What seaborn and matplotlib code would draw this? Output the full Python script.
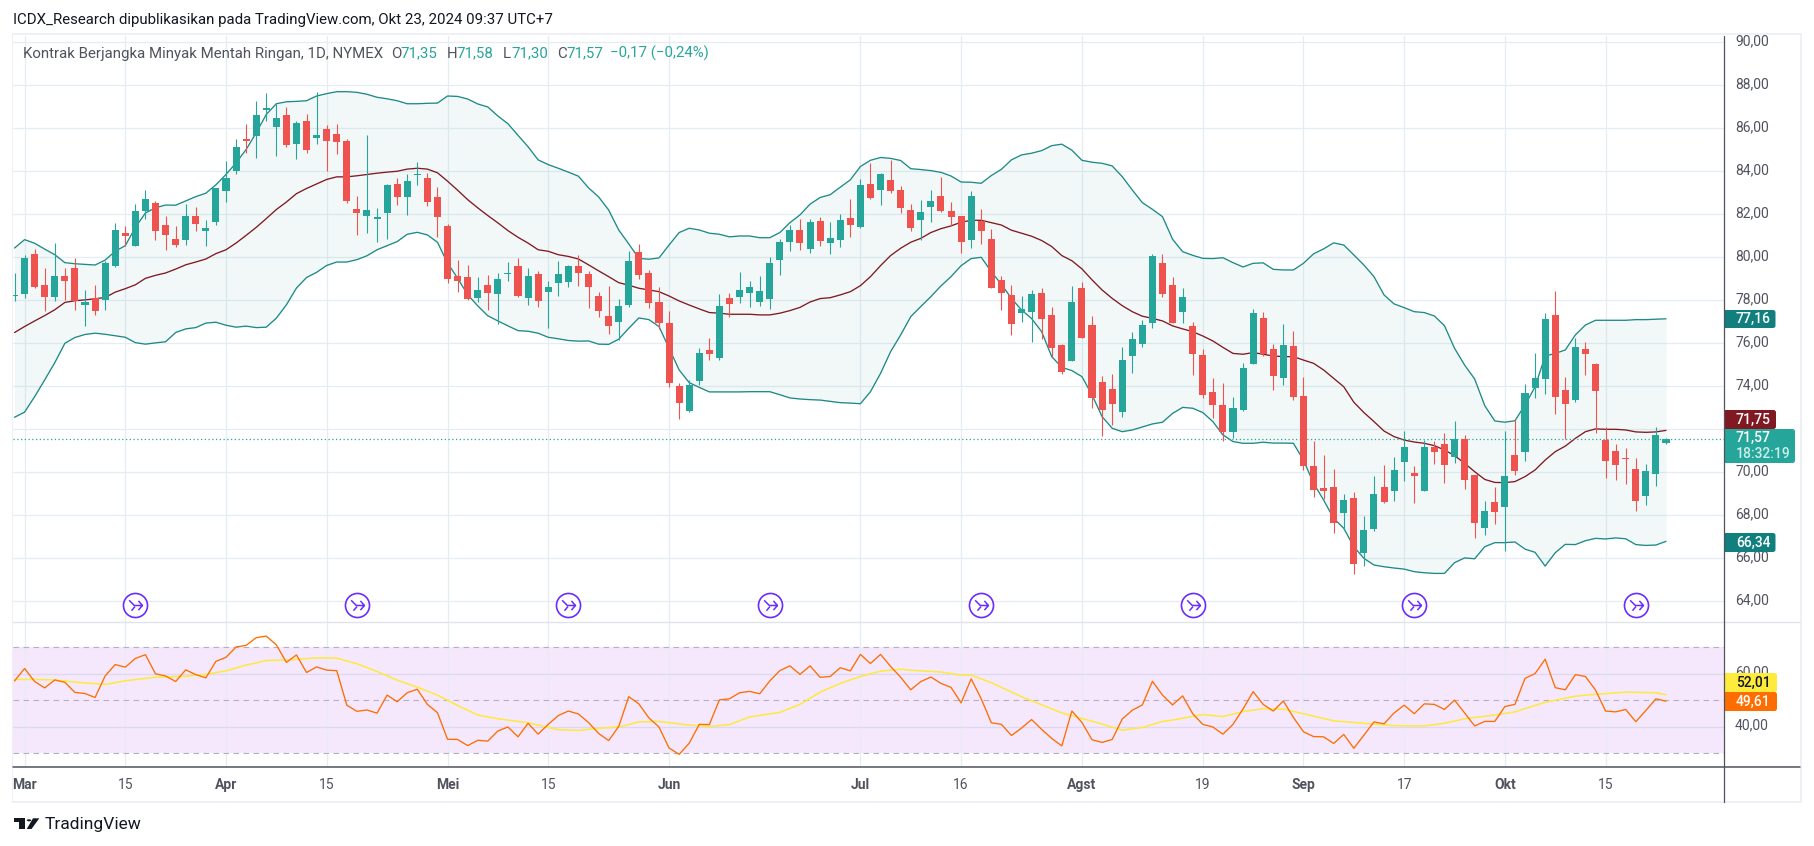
import matplotlib
matplotlib.use('Agg')
import matplotlib.pyplot as plt
import numpy as np
import pandas as pd
import seaborn as sns
from matplotlib.lines import Line2D
from matplotlib.patches import Circle, FancyBboxPatch, Polygon, Rectangle
from matplotlib.path import Path
from matplotlib.transforms import IdentityTransform, ScaledTranslation

# OHLC harian
opens = [78.18, 78.27, 80.17, 78.72, 78.13, 79.14, 79.50, 77.76, 78.10, 78.02,
         79.61, 81.13, 80.54, 82.17, 82.54, 81.52, 80.87, 80.82, 81.94, 81.24,
         81.66, 83.10, 83.99, 85.48, 85.62, 86.85, 86.04, 86.60, 85.29, 86.32,
         85.57, 85.95, 85.71, 85.39, 82.26, 81.94, 81.80, 82.08, 83.43, 82.78,
         83.82, 83.71, 82.78, 81.47, 79.14, 79.09, 78.12, 78.72, 78.30, 79.23,
         79.61, 78.12, 79.23, 78.40, 78.82, 78.86, 79.61, 79.23, 78.21, 77.27,
         76.99, 77.78, 80.25, 79.27, 77.92, 76.95, 74.02, 72.85, 74.25, 75.69,
         75.32, 78.11, 78.16, 78.34, 77.92, 78.06, 79.88, 80.71, 81.27, 80.39,
         81.69, 80.67, 80.81, 81.83, 81.41, 83.41, 83.13, 83.60, 83.13, 82.20,
         81.74, 82.34, 82.85, 82.16, 81.92, 80.81, 81.69, 80.85, 78.95, 78.25,
         77.41, 77.46, 78.34, 77.32, 75.92, 75.18, 78.57, 76.85, 74.20, 73.88,
         72.81, 75.41, 75.97, 76.95, 79.74, 78.71, 77.46, 76.81, 75.46, 73.74,
         73.13, 71.88, 72.90, 75.04, 77.18, 75.74, 74.39, 75.88, 73.55, 70.29,
         69.27, 69.32, 68.11, 68.81, 66.25, 67.36, 69.32, 69.13, 70.48, 69.97,
         69.13, 71.18, 71.32, 70.71, 71.55, 69.88, 67.41, 68.62, 68.39, 70.81,
         70.95, 73.92, 74.34, 77.32, 73.83, 73.36, 75.74, 75.04, 71.50, 70.99,
         70.67, 70.16, 68.90, 69.92, 71.35]
highs = [79.27, 80.10, 80.38, 79.50, 80.66, 79.50, 79.97, 78.49, 78.72, 79.81,
         81.60, 81.47, 82.50, 83.15, 82.64, 81.94, 81.47, 82.50, 82.36, 81.75,
         83.20, 84.50, 85.51, 86.20, 87.25, 87.62, 87.11, 86.97, 86.32, 86.64,
         87.67, 86.13, 86.18, 85.51, 82.87, 85.67, 82.31, 83.43, 83.71, 83.85,
         84.45, 83.90, 83.29, 81.57, 79.89, 79.65, 79.09, 79.19, 79.27, 79.79,
         79.98, 79.51, 79.37, 78.91, 79.84, 79.65, 80.12, 79.37, 78.40, 78.67,
         78.06, 80.29, 80.62, 79.41, 78.62, 77.50, 74.14, 74.29, 75.78, 76.25,
         78.29, 78.34, 79.32, 78.90, 79.13, 80.02, 80.85, 81.50, 81.78, 81.78,
         81.88, 81.64, 82.02, 82.71, 83.64, 84.39, 83.92, 84.53, 83.32, 82.48,
         82.67, 83.13, 83.74, 82.57, 81.92, 83.09, 82.25, 81.32, 79.13, 78.71,
         78.20, 78.48, 78.57, 77.69, 75.97, 78.67, 78.85, 77.27, 74.48, 74.57,
         75.83, 76.53, 77.09, 80.16, 80.16, 79.09, 78.57, 76.99, 75.74, 74.39,
         74.16, 73.50, 75.09, 77.60, 77.46, 75.97, 76.90, 76.57, 74.43, 71.46,
         70.81, 70.16, 68.99, 69.09, 67.97, 69.83, 70.34, 70.71, 71.92, 70.29,
         71.50, 71.46, 71.83, 72.39, 71.74, 69.88, 68.67, 69.32, 71.92, 72.48,
         74.11, 75.55, 77.41, 78.43, 74.43, 76.25, 76.06, 75.09, 72.11, 71.32,
         71.13, 70.67, 70.39, 72.11, 71.58]
lows = [77.95, 78.10, 78.57, 77.51, 77.98, 78.02, 77.56, 76.81, 77.32, 77.56,
        79.55, 80.51, 80.54, 81.80, 80.82, 80.32, 80.46, 80.59, 81.24, 80.54,
        81.52, 82.59, 83.85, 84.86, 84.64, 86.32, 84.69, 85.11, 84.55, 84.83,
        85.25, 84.03, 84.78, 82.54, 81.05, 81.15, 80.73, 80.87, 82.45, 81.98,
        83.34, 82.40, 80.96, 78.80, 78.40, 78.02, 77.93, 77.56, 76.90, 78.91,
        78.15, 77.79, 77.70, 76.72, 78.21, 78.63, 78.68, 77.65, 77.23, 76.43,
        76.16, 77.69, 78.99, 77.64, 76.67, 73.97, 72.48, 72.81, 74.06, 75.22,
        75.22, 77.22, 77.88, 77.69, 77.74, 77.60, 79.18, 80.29, 80.34, 80.20,
        80.53, 80.16, 80.48, 80.95, 81.36, 82.71, 82.43, 82.99, 82.06, 81.22,
        80.81, 81.64, 82.11, 81.46, 80.20, 80.43, 80.62, 78.57, 77.55, 76.39,
        76.99, 76.06, 76.20, 75.36, 74.57, 75.18, 76.25, 73.00, 71.69, 72.20,
        72.57, 74.62, 75.83, 76.71, 78.16, 76.95, 76.95, 74.53, 73.44, 72.53,
        71.46, 71.60, 72.85, 75.04, 75.41, 73.83, 74.06, 73.36, 70.11, 68.85,
        68.76, 67.18, 67.32, 65.27, 65.64, 67.27, 68.57, 68.67, 69.60, 68.57,
        69.13, 70.39, 69.50, 70.43, 69.22, 66.95, 67.09, 67.60, 66.34, 69.88,
        70.53, 73.46, 73.64, 72.71, 71.55, 73.27, 74.53, 71.83, 69.74, 69.64,
        69.46, 68.20, 68.48, 69.36, 71.30]
closes = [78.26, 79.97, 78.64, 78.13, 79.14, 78.92, 77.95, 77.91, 77.51, 79.73,
          81.29, 81.00, 82.17, 82.73, 81.24, 81.05, 80.59, 81.94, 81.57, 81.38,
          83.20, 83.71, 85.15, 85.43, 86.60, 86.92, 86.46, 85.20, 86.23, 84.97,
          85.67, 85.39, 85.34, 82.64, 82.08, 82.22, 81.89, 83.38, 82.78, 83.57,
          83.85, 82.59, 81.89, 78.97, 78.91, 78.07, 78.49, 78.35, 79.00, 79.27,
          78.21, 79.14, 77.98, 78.63, 79.23, 79.61, 79.28, 78.63, 77.51, 76.81,
          77.74, 79.83, 79.18, 77.88, 76.95, 74.16, 73.22, 74.06, 75.55, 75.50,
          77.74, 77.83, 78.48, 78.62, 78.43, 79.74, 80.71, 81.27, 80.67, 81.64,
          80.76, 80.90, 81.74, 81.50, 83.36, 82.76, 83.88, 83.09, 82.29, 81.36,
          82.11, 82.62, 82.16, 81.88, 80.71, 82.85, 81.22, 78.57, 78.34, 76.90,
          77.60, 78.29, 77.13, 75.78, 74.67, 77.92, 76.25, 73.46, 72.90, 73.18,
          75.22, 76.20, 76.85, 80.06, 78.29, 76.95, 78.16, 75.50, 73.60, 73.13,
          71.88, 72.99, 74.85, 77.41, 75.50, 74.48, 75.92, 73.50, 70.29, 69.18,
          69.13, 67.64, 68.71, 65.74, 67.32, 68.99, 68.62, 70.11, 71.18, 69.83,
          71.18, 70.95, 70.34, 71.55, 69.64, 67.64, 68.20, 68.16, 69.83, 70.06,
          73.69, 74.39, 77.13, 73.50, 73.18, 75.83, 75.50, 73.78, 70.53, 70.34,
          70.62, 68.67, 70.06, 71.74, 71.57]

# Bollinger Bands
bb_upper = [80.43, 80.82, 80.65, 80.38, 80.12, 79.75, 79.70, 79.67, 79.64, 79.87,
            80.28, 80.54, 81.39, 82.06, 82.30, 82.43, 82.42, 82.62, 82.82, 82.98,
            83.37, 83.85, 84.39, 85.01, 85.79, 86.64, 87.14, 87.23, 87.25, 87.28,
            87.50, 87.61, 87.70, 87.70, 87.67, 87.58, 87.44, 87.37, 87.28, 87.14,
            87.14, 87.16, 87.17, 87.50, 87.48, 87.36, 87.13, 86.99, 86.57, 86.21,
            85.67, 85.14, 84.53, 84.31, 84.14, 83.96, 83.77, 83.23, 82.81, 82.20,
            81.27, 80.62, 79.95, 79.91, 79.97, 80.57, 81.15, 81.35, 81.27, 81.12,
            81.07, 80.95, 80.99, 80.99, 80.91, 80.91, 81.15, 81.61, 81.97, 82.47,
            82.78, 82.91, 83.26, 83.60, 84.22, 84.51, 84.64, 84.60, 84.50, 84.12,
            84.08, 84.03, 83.95, 83.78, 83.50, 83.49, 83.44, 83.80, 84.09, 84.53,
            84.76, 84.84, 84.96, 85.19, 85.26, 84.98, 84.51, 84.42, 84.37, 84.25,
            83.75, 83.13, 82.54, 82.23, 81.89, 80.84, 80.26, 80.09, 79.95, 79.94,
            79.98, 79.75, 79.55, 79.72, 79.74, 79.44, 79.41, 79.41, 79.72, 80.16,
            80.39, 80.67, 80.57, 80.11, 79.64, 79.10, 78.25, 77.83, 77.66, 77.47,
            77.43, 77.27, 76.82, 75.77, 74.99, 74.34, 73.10, 72.39, 72.33, 72.40,
            73.13, 73.98, 75.41, 75.53, 75.69, 76.39, 76.85, 77.07, 77.07, 77.07,
            77.07, 77.10, 77.10, 77.12, 77.14]
bb_basis = [76.50, 76.78, 77.04, 77.29, 77.56, 77.90, 77.98, 78.02, 78.07, 78.13,
            78.38, 78.54, 78.72, 79.02, 79.16, 79.27, 79.45, 79.65, 79.78, 79.92,
            80.17, 80.35, 80.66, 81.02, 81.39, 81.80, 82.22, 82.57, 82.96, 83.20,
            83.41, 83.62, 83.74, 83.74, 83.79, 83.85, 83.91, 83.96, 84.00, 84.10,
            84.14, 84.10, 83.93, 83.54, 83.12, 82.68, 82.30, 81.94, 81.60, 81.24,
            80.93, 80.66, 80.35, 80.28, 80.12, 80.04, 79.92, 79.65, 79.37, 79.10,
            78.82, 78.70, 78.56, 78.48, 78.40, 78.20, 77.97, 77.78, 77.60, 77.43,
            77.40, 77.35, 77.35, 77.35, 77.32, 77.32, 77.40, 77.52, 77.67, 77.92,
            78.08, 78.12, 78.25, 78.40, 78.68, 79.10, 79.61, 80.08, 80.42, 80.70,
            80.88, 81.15, 81.33, 81.46, 81.63, 81.72, 81.72, 81.61, 81.50, 81.26,
            81.12, 80.98, 80.78, 80.50, 80.08, 79.84, 79.46, 78.95, 78.48, 78.09,
            77.75, 77.47, 77.26, 77.16, 77.04, 76.81, 76.67, 76.54, 76.34, 76.11,
            75.81, 75.53, 75.49, 75.57, 75.49, 75.41, 75.38, 75.38, 75.22, 75.07,
            74.76, 74.37, 73.98, 73.26, 72.78, 72.36, 71.92, 71.66, 71.50, 71.41,
            71.35, 71.24, 71.04, 70.78, 70.42, 70.03, 69.67, 69.53, 69.52, 69.57,
            69.80, 70.11, 70.57, 70.96, 71.22, 71.58, 71.89, 72.02, 72.00, 72.00,
            71.97, 71.88, 71.86, 71.88, 71.95]
bb_lower = [72.56, 72.80, 73.52, 74.30, 75.10, 76.00, 76.27, 76.41, 76.47, 76.42,
            76.35, 76.28, 76.03, 75.96, 76.02, 76.07, 76.50, 76.67, 76.73, 76.94,
            76.98, 76.84, 76.75, 76.80, 76.73, 76.75, 77.17, 77.79, 78.57, 79.06,
            79.30, 79.62, 79.78, 79.78, 79.89, 80.07, 80.35, 80.54, 80.73, 81.07,
            81.16, 81.04, 80.70, 79.73, 79.03, 78.26, 77.74, 77.28, 77.04, 76.81,
            76.59, 76.56, 76.47, 76.28, 76.21, 76.13, 76.10, 76.11, 75.96, 75.95,
            76.19, 76.70, 77.18, 77.10, 76.78, 75.77, 74.76, 74.17, 73.95, 73.74,
            73.74, 73.74, 73.74, 73.75, 73.75, 73.75, 73.61, 73.46, 73.41, 73.38,
            73.36, 73.30, 73.24, 73.22, 73.19, 73.75, 74.60, 75.61, 76.39, 77.24,
            77.71, 78.17, 78.67, 79.10, 79.61, 79.94, 80.00, 79.33, 78.74, 78.09,
            77.55, 77.15, 76.54, 75.38, 74.88, 74.73, 74.45, 73.60, 72.59, 72.05,
            71.89, 71.97, 72.11, 72.25, 72.33, 72.74, 73.02, 72.98, 72.78, 72.36,
            71.74, 71.43, 71.35, 71.35, 71.40, 71.36, 71.36, 71.35, 70.57, 69.49,
            68.71, 67.86, 67.40, 66.54, 66.00, 65.69, 65.61, 65.55, 65.50, 65.38,
            65.33, 65.30, 65.30, 65.80, 66.02, 65.98, 66.54, 66.73, 66.73, 66.76,
            66.43, 66.28, 65.64, 66.26, 66.65, 66.64, 66.82, 66.93, 66.90, 66.95,
            66.91, 66.64, 66.60, 66.62, 66.79]

# RSI
rsi_values = [57.2, 61.9, 57.0, 54.6, 57.6, 56.7, 52.9, 52.5, 51.0, 59.1,
              63.4, 62.4, 65.7, 67.1, 59.9, 59.1, 57.0, 61.4, 59.6, 58.4,
              64.6, 66.1, 70.0, 70.6, 73.5, 74.1, 70.8, 64.2, 67.0, 60.4,
              62.5, 61.3, 61.1, 48.1, 45.8, 46.3, 45.1, 51.9, 49.4, 52.8,
              54.1, 48.4, 45.3, 35.3, 35.2, 32.9, 34.9, 34.6, 38.4, 39.9,
              36.2, 41.3, 37.2, 40.9, 44.2, 45.9, 44.8, 41.6, 37.5, 34.8,
              40.1, 51.3, 48.6, 43.3, 39.9, 32.0, 29.6, 33.8, 40.9, 40.8,
              50.1, 50.5, 52.8, 53.3, 52.4, 57.2, 61.1, 62.9, 59.7, 62.9,
              58.6, 58.9, 62.2, 61.0, 67.2, 63.8, 67.2, 62.7, 58.6, 53.9,
              57.0, 58.7, 56.3, 54.8, 49.0, 58.0, 50.5, 41.5, 40.9, 36.7,
              39.5, 42.7, 39.0, 35.6, 32.8, 45.9, 41.6, 35.1, 34.1, 35.2,
              42.9, 46.2, 48.2, 57.1, 51.9, 48.2, 51.6, 44.9, 40.9, 39.9,
              37.2, 40.9, 46.7, 53.2, 48.4, 45.9, 49.7, 43.5, 38.1, 36.3,
              36.2, 33.7, 37.1, 31.9, 36.8, 41.8, 41.1, 45.2, 48.1, 44.9,
              48.6, 48.4, 46.5, 50.0, 45.2, 40.3, 42.0, 42.0, 47.6, 48.4,
              58.2, 60.0, 65.4, 54.7, 53.9, 59.6, 58.9, 53.8, 45.9, 45.6,
              46.5, 41.9, 46.1, 50.5, 49.61]
# garis kuning RSI, titik yang terbaca saja
rsi_ma_idx = [0, 2, 4, 6, 9, 11, 14, 17, 19, 21, 23, 25, 27, 30, 32, 34, 36, 38, 40, 42,
              44, 46, 48, 51, 54, 56, 58, 60, 62, 64, 67, 69, 71, 73, 76, 78, 80, 82, 84, 86,
              88, 90, 92, 94, 95, 97, 100, 104, 108, 110, 112, 114, 115, 118, 120, 122, 124, 126, 128, 131,
              134, 137, 140, 142, 144, 147, 149, 152, 155, 157, 160, 163, 164]
rsi_ma = [57.8, 57.8, 57.6, 56.8, 55.9, 57.3, 58.6, 59.0, 59.7, 61.0, 63.2, 64.9, 65.1, 65.9, 65.8, 63.7, 60.8, 57.5, 54.9, 51.9,
          48.0, 44.4, 43.0, 41.5, 38.9, 38.6, 39.4, 39.9, 41.8, 42.0, 40.6, 40.1, 40.8, 43.7, 45.4, 48.4, 53.0, 56.3, 58.9, 60.9,
          61.6, 61.0, 60.6, 59.4, 59.4, 56.6, 51.3, 45.2, 41.0, 38.7, 39.7, 42.0, 42.5, 44.6, 43.8, 45.7, 46.8, 46.6, 44.9, 42.2,
          41.3, 40.4, 40.3, 41.3, 43.0, 44.4, 45.6, 49.2, 51.5, 52.2, 53.0, 52.8, 52.01]

# sumbu waktu
time_tick_idx = [1, 11, 21, 31, 43, 53, 65, 84, 94, 106, 118, 128, 138, 148, 158]
time_tick_labels = ['Mar', '15', 'Apr', '15', 'Mei', '15', 'Jun', 'Jul', '16', 'Agst', '19', 'Sep', '17', 'Okt', '15']
month_labels = ['Mar', 'Apr', 'Mei', 'Jun', 'Jul', 'Agst', 'Sep', 'Okt']
price_ticks = [64, 66, 68, 70, 72, 74, 76, 78, 80, 82, 84, 86, 88, 90]
rsi_ticks = [40, 60]
rsi_levels = [30, 50, 70]
event_idx = [12, 34, 55, 75, 96, 117, 139, 161]
event_level = 63.83
last_close = 71.57

UP = '#26a69a'
DOWN = '#ef5350'
BAND = '#1d8a87'
BASIS = '#801922'
GRID = '#e6edf2'
TEXT = '#50535e'
W, H = 1814, 846

sns.set_style('white')
plt.rcParams['font.family'] = ['Roboto', 'DejaVu Sans']

fig = plt.figure(figsize=(W / 100, H / 100), dpi=100, facecolor='white')


def px_axes(x0, y0, x1, y1):
    return fig.add_axes([x0 / W, 1 - y1 / H, (x1 - x0) / W, (y1 - y0) / H])


def fx(x):
    return x / W


def fy(y):
    return 1 - y / H


def px_text(x, y, s, **kw):
    kw.setdefault('va', 'center')
    kw.setdefault('ha', 'left')
    kw.setdefault('fontsize', 10)
    kw.setdefault('color', TEXT)
    fig.text(fx(x), fy(y), s, **kw)


def px_rect(x0, y0, x1, y1, color, **kw):
    fig.add_artist(Rectangle((fx(x0), fy(y1)), (x1 - x0) / W, (y1 - y0) / H,
                             transform=fig.transFigure, facecolor=color, edgecolor='none', **kw))


def px_line(xs, ys, color, lw):
    fig.add_artist(Line2D([fx(x) for x in xs], [fy(y) for y in ys], color=color, lw=lw,
                          transform=fig.transFigure))


def px_tag(y0, y1, x1, color):
    # sudut kanan membulat seperti label TradingView
    fig.add_artist(FancyBboxPatch((1724.5, H - y1), x1 - 1724.5, y1 - y0,
                                  boxstyle='round,pad=0,rounding_size=2.5', transform=IdentityTransform(),
                                  facecolor=color, edgecolor='none'))
    px_rect(1724.5, y0, 1730, y1, color)


ax = px_axes(12.6, 36, 1724, 622)
ax_rsi = px_axes(12.6, 622, 1724, 767)

df = pd.DataFrame({'idx': np.arange(len(closes)), 'open': opens, 'high': highs, 'low': lows, 'close': closes,
                   'upper': bb_upper, 'basis': bb_basis, 'lower': bb_lower, 'rsi': rsi_values})

xlim = (-0.19, 169.76)
for a in (ax, ax_rsi):
    a.set_xlim(xlim)
    a.set_xticks(time_tick_idx)
    a.grid(True, color=GRID, lw=0.9)
    a.set_axisbelow(True)
    a.yaxis.tick_right()
    a.tick_params(length=0, labelcolor=TEXT, labelsize=10, pad=8)
    a.patch.set_alpha(0)
    for s in a.spines.values():
        s.set_visible(False)

# panel harga
ax.set_ylim(63.04, 90.29)
ax.set_yticks(price_ticks)
ax.set_yticklabels([f'{t:.2f}'.replace('.', ',') for t in price_ticks])
ax.tick_params(labelbottom=False)

ax.fill_between(df['idx'], df['lower'], df['upper'], color='#138484', alpha=0.055, lw=0, zorder=1)
sns.lineplot(data=df, x='idx', y='upper', ax=ax, color=BAND, lw=0.95, estimator=None, zorder=2)
sns.lineplot(data=df, x='idx', y='lower', ax=ax, color=BAND, lw=0.95, estimator=None, zorder=2)
sns.lineplot(data=df, x='idx', y='basis', ax=ax, color=BASIS, lw=0.95, estimator=None, zorder=2)
ax.axhline(last_close, color=UP, lw=0.9, ls=(0, (1, 2)), zorder=2)

colors = np.where(df['close'] >= df['open'], UP, DOWN)
ax.vlines(df['idx'], df['low'], df['high'], colors=colors, lw=0.8, zorder=3)
ax.bar(df['idx'], (df['close'] - df['open']).abs(), bottom=df[['open', 'close']].min(axis=1),
       width=0.7, color=colors, lw=0, zorder=4)

arrow_path = Path([(-0.55, 0.45), (-0.1, 0), (0.6, 0), (0.25, 0.4), (0.6, 0), (0.25, -0.4), (-0.35, -0.45), (-0.05, -0.1)],
                  [Path.MOVETO, Path.LINETO, Path.LINETO, Path.MOVETO, Path.LINETO, Path.LINETO, Path.MOVETO, Path.LINETO])
event_df = pd.DataFrame({'idx': event_idx, 'level': [event_level] * len(event_idx)})
sns.scatterplot(data=event_df, x='idx', y='level', ax=ax, s=300, color='white', edgecolor='#6a2cff', linewidth=1.2, zorder=5, clip_on=False)
ax.plot(event_idx, [event_level] * len(event_idx), ls='', marker=arrow_path, ms=10, mfc='none', mec='#6a2cff', mew=1.1, zorder=6)
ax.set_xlabel('')
ax.set_ylabel('')

# panel RSI
ax_rsi.set_ylim(24.85, 79.4)
ax_rsi.set_yticks(rsi_ticks)
ax_rsi.set_yticklabels([f'{t:.2f}'.replace('.', ',') for t in rsi_ticks])
ax_rsi.set_xticklabels(time_tick_labels)
for lab in ax_rsi.get_xticklabels():
    if lab.get_text() in month_labels:
        lab.set_fontweight('bold')
ax_rsi.grid(True, axis='y', color='#dcd8ee', lw=0.9)
ax_rsi.set_axisbelow('line')
ax_rsi.axhspan(min(rsi_levels), max(rsi_levels), color='#f5e8fd', lw=0, zorder=0.2)
for lev in rsi_levels:
    ax_rsi.axhline(lev, color='#b8aec4', lw=0.8, ls=(0, (5, 4)), zorder=1.6)
sns.lineplot(x=rsi_ma_idx, y=rsi_ma, ax=ax_rsi, color='#ffe93b', lw=1.1, estimator=None, zorder=2)
sns.lineplot(data=df, x='idx', y='rsi', ax=ax_rsi, color='#ff6d00', lw=0.95, estimator=None, zorder=3)
ax_rsi.set_xlabel('')
ax_rsi.set_ylabel('')

# label sumbu kanan sedikit di atas garis grid
up_shift = ScaledTranslation(0, 2.5 / 100, fig.dpi_scale_trans)
for a in (ax, ax_rsi):
    for lab in a.get_yticklabels():
        lab.set_transform(lab.get_transform() + up_shift)

# bingkai
px_rect(12, 33, 1802, 35, '#eef0f5')
px_rect(12, 33, 13, 802, '#eef0f5')
px_rect(12, 801, 1802, 803, '#eef0f5')
px_rect(1800, 33, 1802, 803, '#eef0f5')
px_line([12.6, 1800], [622, 622], '#e0e3eb', 1)
px_line([12.6, 1800], [767, 767], '#50535e', 1.1)
px_line([1724, 1724], [36, 802], '#50535e', 0.9)

# label harga di sumbu kanan
px_tag(310, 328, 1775.5, '#127f7f')
px_text(1736, 319, '77,16', color='white', fontweight=500)
px_tag(410, 429, 1776, BASIS)
px_text(1736, 419.5, '71,75', color='white', fontweight=500)
px_tag(429, 463, 1795, UP)
px_text(1736, 437.5, '71,57', color='white', fontweight=500)
px_text(1736, 453.5, '18:32:19', color='#cdeee9', fontweight=500)
px_tag(533, 552, 1775.5, '#127f7f')
px_text(1736, 542.5, '66,34', color='white', fontweight=500)
px_tag(673, 692, 1777, '#ffeb3b')
px_text(1736, 682.5, '52,01', color='#131722', fontweight=500)
px_tag(692, 711, 1777, '#ff6d00')
px_text(1736, 701.5, '49,61', color='white', fontweight=500)

# judul dan legenda
px_text(13.4, 20, 'ICDX_Research dipublikasikan pada TradingView.com, Okt 23, 2024 09:37 UTC+7', color='#131722', fontsize=10.8)
px_text(23.3, 53.7, 'Kontrak Berjangka Minyak Mentah Ringan, 1D, NYMEX', fontsize=10.8)
for x_lbl, lbl, x_val, val in [(391, 'O', 400, '71,35'), (447, 'H', 456, '71,58'), (503, 'L', 511, '71,30'), (557, 'C', 566, '71,57')]:
    px_text(x_lbl, 53.7, lbl, fontsize=10.8)
    px_text(x_val, 53.7, val, fontsize=10.8, color=UP)
px_text(610, 53.7, '\u22120,17 (\u22120,24%)', fontsize=10.8, color=UP)

# logo TradingView
fig.add_artist(Polygon([(fx(x), fy(y)) for x, y in [(13.8, 818.3), (25.3, 818.3), (25.3, 829), (19, 829), (19, 822), (13.8, 822)]],
                       closed=True, transform=fig.transFigure, facecolor='#131722', edgecolor='none'))
fig.add_artist(Polygon([(fx(x), fy(y)) for x, y in [(33, 818.3), (39.3, 818.3), (31.5, 829), (26.7, 829)]],
                       closed=True, transform=fig.transFigure, facecolor='#131722', edgecolor='none'))
fig.add_artist(Circle((fx(29), fy(820.3)), 2.2 / W, transform=fig.transFigure, facecolor='#131722', edgecolor='none'))
px_text(45, 824.5, 'TradingView', color='#131722', fontsize=12.5)

fig.savefig('out.png', dpi=100, facecolor='white')
